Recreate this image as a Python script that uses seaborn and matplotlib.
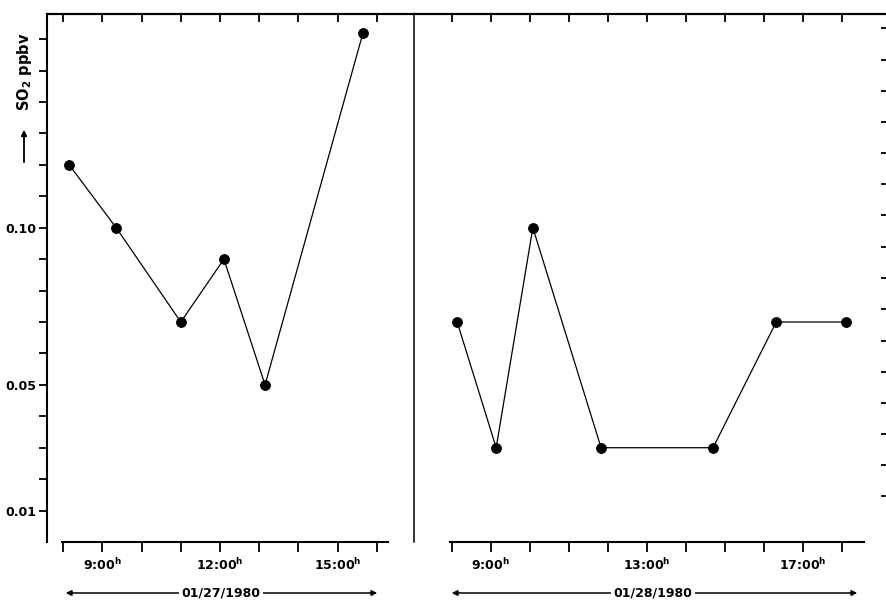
import matplotlib
matplotlib.use("Agg")
import numpy as np
import pandas as pd
import seaborn as sns
import matplotlib.pyplot as plt

sns.set_style("ticks")
plt.rcParams['font.family'] = ['DejaVu Sans']
plt.rcParams['text.color'] = 'black'
plt.rcParams['xtick.color'] = 'black'
plt.rcParams['ytick.color'] = 'black'
plt.rcParams['axes.labelcolor'] = 'black'
plt.rcParams['mathtext.default'] = 'bf'

# ---- data (hours of day, SO2 in ppbv) ----
day1_hours = [8.15, 9.35, 11.0, 12.1, 13.15, 15.65]
day1_so2 = [0.12, 0.10, 0.07, 0.09, 0.05, 0.162]
day2_hours = [8.14, 9.14, 10.08, 11.83, 14.70, 16.32, 18.11]
day2_so2 = [0.07, 0.03, 0.10, 0.03, 0.03, 0.07, 0.07]

day1_ticks = [8, 9, 10, 11, 12, 13, 14, 15, 16]
day1_ticklabels = ['', '9:00$^{h}$', '', '', '12:00$^{h}$', '', '', '15:00$^{h}$', '']
day2_ticks = [8, 9, 10, 11, 12, 13, 14, 15, 16, 17, 18]
day2_ticklabels = ['', '9:00$^{h}$', '', '', '', '13:00$^{h}$', '', '', '', '17:00$^{h}$', '']
y_ticks = [0.01, 0.02, 0.03, 0.04, 0.05, 0.06, 0.07, 0.08, 0.09, 0.10,
           0.11, 0.12, 0.13, 0.14, 0.15, 0.16]
y_ticklabels = ['0.01', '', '', '', '0.05', '', '', '', '', '0.10',
                '', '', '', '', '', '']
right_ticks = [0.0145, 0.0244, 0.0343, 0.0443, 0.0542, 0.0641, 0.0741, 0.0840,
               0.0939, 0.1039, 0.1138, 0.1237, 0.1336, 0.1436, 0.1535, 0.1634]
date1 = '01/27/1980'
date2 = '01/28/1980'
ylabel = 'SO$_2$ ppbv'

df1 = pd.DataFrame({'hour': day1_hours, 'so2': day1_so2})
df2 = pd.DataFrame({'hour': day2_hours, 'so2': day2_so2})

W, H = 887, 600
fig = plt.figure(figsize=(W / 100, H / 100), dpi=100)


def rect(x0, x1, y0, y1):
    return [x0 / W, 1 - y1 / H, (x1 - x0) / W, (y1 - y0) / H]


ax1 = fig.add_axes(rect(47, 414, 14, 542))
ax2 = fig.add_axes(rect(414, 887, 14, 542))

line_kw = dict(color='black', marker='o', markersize=7, linewidth=0.9,
               markeredgecolor='black', markerfacecolor='black')
sns.lineplot(data=df1, x='hour', y='so2', ax=ax1, **line_kw)
sns.lineplot(data=df2, x='hour', y='so2', ax=ax2, **line_kw)

for ax in (ax1, ax2):
    ax.set_ylim(0, 0.168)
    ax.set_xlabel('')
    ax.set_ylabel('')
    for s in ax.spines.values():
        s.set_linewidth(1.5)
        s.set_color('black')

ax1.set_xlim(7.584, 16.952)
ax2.set_xlim(7.033, 19.16)

tick_font = dict(fontsize=9, fontweight='bold')

# left panel axes
ax1.spines['right'].set_visible(False)
ax1.spines['bottom'].set_bounds(7.967, 16.29)
ax1.set_xticks(day1_ticks)
ax1.set_xticklabels(day1_ticklabels, **tick_font)
ax1.set_yticks(y_ticks)
ax1.set_yticklabels(y_ticklabels, **tick_font)
ax1.tick_params(axis='x', direction='out', length=7, width=1.3, pad=4, top=False)
ax1.tick_params(axis='y', direction='out', length=6, width=1.3, pad=2, right=False)

# right panel axes
ax2.spines['right'].set_visible(False)
ax2.spines['left'].set_linewidth(1.1)
ax2.spines['bottom'].set_bounds(7.96, 18.57)
ax2.set_xticks(day2_ticks)
ax2.set_xticklabels(day2_ticklabels, **tick_font)
ax2.tick_params(axis='x', direction='out', length=7, width=1.3, pad=4, top=False)
ax2.yaxis.tick_right()
ax2.set_yticks(right_ticks)
ax2.tick_params(axis='y', direction='in', length=4, width=1.3, left=False,
                right=True, labelright=False, labelleft=False)

# top inward ticks
for ax, ticks in ((ax1, day1_ticks), (ax2, day2_ticks)):
    sec = ax.secondary_xaxis('top')
    sec.set_xticks(ticks)
    sec.set_xticklabels([])
    sec.tick_params(direction='in', length=6, width=1.3)
    sec.spines['top'].set_linewidth(1.5)

# y label with arrow
fig.text(25 / W, 1 - 72 / H, ylabel, rotation=90, ha='center', va='center',
         fontsize=10.5, fontweight='bold')
fig.add_artist(matplotlib.patches.FancyArrowPatch(
    (24 / W, 1 - 165 / H), (24 / W, 1 - 127 / H), transform=fig.transFigure,
    arrowstyle='-|>', mutation_scale=8, color='black', linewidth=1.3))

# date arrows
for (xa, xb, xc, txt) in ((63, 380, 221, date1), (449, 860, 653, date2)):
    fig.add_artist(matplotlib.patches.FancyArrowPatch(
        (xa / W, 1 - 593 / H), (xb / W, 1 - 593 / H), transform=fig.transFigure,
        arrowstyle='<|-|>', mutation_scale=8, color='black', linewidth=1.1))
    fig.text(xc / W, 1 - 593 / H, txt, ha='center', va='center', fontsize=9,
             fontweight='bold', bbox=dict(facecolor='white', edgecolor='none', pad=1.5))

fig.savefig('out.png', dpi=100)
